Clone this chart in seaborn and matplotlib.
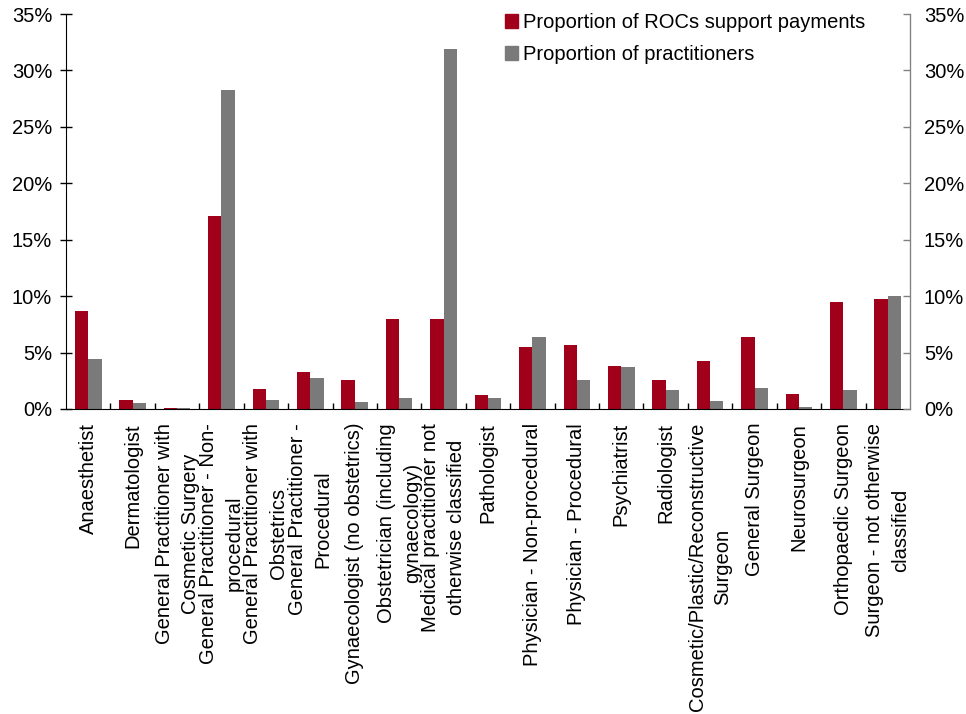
import matplotlib
matplotlib.use("Agg")
import matplotlib.pyplot as plt
import matplotlib.ticker as mticker
import seaborn as sns
import pandas as pd

# Specialty groups (wrapped as printed under the axis)
categories = [
    "Anaesthetist",
    "Dermatologist",
    "General Practitioner with\nCosmetic Surgery",
    "General Practitioner - Non-\nprocedural",
    "General Practitioner with\nObstetrics",
    "General Practitioner -\nProcedural",
    "Gynaecologist (no obstetrics)",
    "Obstetrician (including\ngynaecology)",
    "Medical practitioner not\notherwise classified",
    "Pathologist",
    "Physician - Non-procedural",
    "Physician - Procedural",
    "Psychiatrist",
    "Radiologist",
    "Cosmetic/Plastic/Reconstructive\nSurgeon",
    "General Surgeon",
    "Neurosurgeon",
    "Orthopaedic Surgeon",
    "Surgeon - not otherwise\nclassified",
]

# Shares in percent
roc_payments = [8.65, 0.80, 0.12, 17.07, 1.77, 3.25, 2.57, 7.94, 7.97, 1.24,
                5.49, 5.67, 3.81, 2.57, 4.25, 6.38, 1.33, 9.48, 9.74]
practitioners = [4.43, 0.53, 0.09, 28.25, 0.80, 2.75, 0.62, 0.97, 31.86, 0.97,
                 6.38, 2.57, 3.72, 1.68, 0.71, 1.86, 0.18, 1.68, 10.00]

series_names = ["Proportion of ROCs support payments", "Proportion of practitioners"]
y_ticks = [0, 5, 10, 15, 20, 25, 30, 35]

RED = "#A0001A"
GREY = "#7A7A7A"
FONT = "Liberation Sans"
FS = 14.5

plt.rcParams["font.family"] = [FONT, "DejaVu Sans"]

df = pd.DataFrame({
    "category": categories * 2,
    "value": roc_payments + practitioners,
    "series": [series_names[0]] * len(categories) + [series_names[1]] * len(categories),
})

fig = plt.figure(figsize=(9.66, 7.14), dpi=100)
ax = fig.add_axes([66 / 966, 1 - 409 / 714, (910 - 66) / 966, (409 - 14) / 714])

sns.barplot(data=df, x="category", y="value", hue="series", order=categories,
            hue_order=series_names, palette=[RED, GREY], width=0.6,
            saturation=1, linewidth=0, ax=ax)
ax.get_legend().remove()

ax.set_xlim(-0.5, len(categories) - 0.5)
ax.set_ylim(0, 35)
ax.set_xlabel("")
ax.set_ylabel("")

pct = mticker.FuncFormatter(lambda v, p: f"{int(v)}%")

# y axis on both sides
ax.set_yticks(y_ticks)
ax.yaxis.set_major_formatter(pct)
ax.tick_params(axis="y", direction="inout", length=8, width=1, pad=6,
               labelsize=FS, colors="black")

ax2 = ax.twinx()
ax2.set_ylim(0, 35)
ax2.set_yticks(y_ticks)
ax2.yaxis.set_major_formatter(pct)
ax2.tick_params(axis="y", direction="in", length=5, width=1, pad=10,
                labelsize=FS, color="#808080", labelcolor="black")

# category labels, with separator ticks between groups
ax.set_xticks(range(len(categories)))
ax.set_xticklabels(categories, rotation=90, ha="center", va="top",
                   fontsize=FS, linespacing=1.47)
ax.tick_params(axis="x", which="major", length=0, pad=10)
ax.set_xticks([i + 0.5 for i in range(len(categories) - 1)], minor=True)
ax.tick_params(axis="x", which="minor", direction="in", length=4.5, width=1,
               color="black")

for a in (ax, ax2):
    a.spines["top"].set_visible(False)
    a.grid(False)
    a.set_facecolor("none")
ax.spines["left"].set_color("black")
ax.spines["bottom"].set_color("black")
ax2.spines["left"].set_visible(False)
ax2.spines["bottom"].set_visible(False)
ax2.spines["right"].set_color("#808080")

handles = [plt.Rectangle((0, 0), 1, 1, color=RED), plt.Rectangle((0, 0), 1, 1, color=GREY)]
fig.legend(handles, series_names, loc="upper left",
           bbox_to_anchor=(505 / 966, 1 - 13 / 714), frameon=False,
           fontsize=FS, handlelength=0.65, handleheight=0.65,
           handletextpad=0.25, labelspacing=0.65, borderpad=0, borderaxespad=0)

fig.savefig("out.png", dpi=100)
